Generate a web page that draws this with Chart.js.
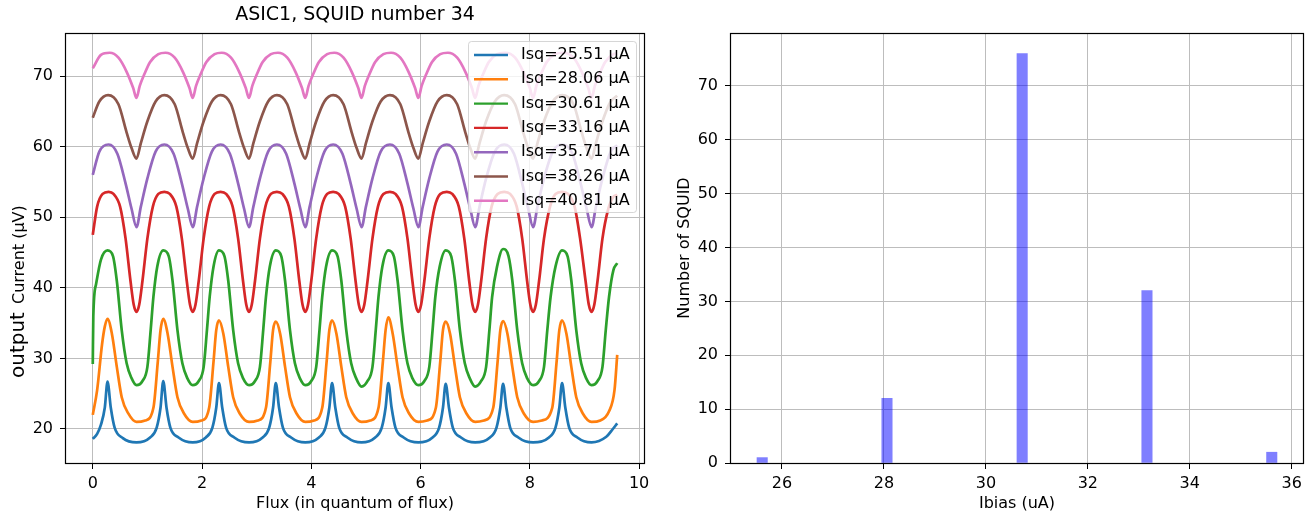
<!DOCTYPE html>
<html>
<head>
<meta charset="utf-8">
<script src="https://cdn.jsdelivr.net/npm/chart.js"></script>
<style>
  html, body { margin: 0; padding: 0; background: #fff; }
  #wrap { position: relative; width: 1307px; height: 516px; }
  canvas { position: absolute; top: 0; }
  #left { left: 0; }
  #right { left: 660px; }
</style>
</head>
<body>
<div id="wrap">
  <canvas id="left" width="660" height="516"></canvas>
  <canvas id="right" width="647" height="516"></canvas>
</div>
<script>
// flux sweep curves, [flux, output in uV]
const isq2551 = [[0.00,18.6],[0.08,19.3],[0.15,20.6],[0.22,23.0],[0.27,26.7],[0.33,23.0],[0.40,20.2],[0.55,18.7],[0.80,18.1],
  [1.05,18.8],[1.17,20.2],[1.24,23.0],[1.29,26.8],[1.35,23.0],[1.42,20.2],[1.57,18.8],[1.83,18.1],
  [2.07,18.8],[2.19,20.2],[2.26,23.0],[2.31,26.5],[2.37,23.0],[2.44,20.2],[2.59,18.8],[2.86,18.1],
  [3.11,18.8],[3.23,20.2],[3.30,23.0],[3.35,26.5],[3.41,23.0],[3.48,20.2],[3.63,18.8],[3.89,18.1],
  [4.14,18.8],[4.26,20.2],[4.33,23.0],[4.38,26.5],[4.44,23.0],[4.51,20.2],[4.66,18.8],[4.92,18.1],
  [5.17,18.8],[5.29,20.2],[5.36,23.0],[5.41,26.5],[5.47,23.0],[5.54,20.2],[5.69,18.8],[5.96,18.1],
  [6.22,18.8],[6.34,20.2],[6.41,23.0],[6.46,26.4],[6.52,23.0],[6.59,20.2],[6.74,18.8],[7.00,18.1],
  [7.27,18.8],[7.39,20.2],[7.46,23.0],[7.51,26.4],[7.57,23.0],[7.64,20.2],[7.79,18.8],[8.06,18.1],
  [8.35,18.8],[8.47,20.2],[8.54,23.0],[8.59,26.5],[8.65,23.0],[8.72,20.2],[8.87,18.8],[9.13,18.1],
  [9.40,18.9],[9.52,20.0],[9.60,20.8]];

const isq2806 = [[0.00,22.0],[0.08,25.5],[0.17,32.0],[0.22,34.5],[0.27,35.6],[0.35,33.5],[0.44,28.8],[0.53,24.5],[0.65,22.2],[0.80,21.0],[0.96,21.2],
  [1.11,23.0],[1.19,29.5],[1.24,34.0],[1.29,35.6],[1.37,33.5],[1.46,28.8],[1.55,24.5],[1.67,22.2],[1.83,21.0],[1.99,21.2],
  [2.13,23.0],[2.21,29.5],[2.26,34.0],[2.31,35.4],[2.39,33.5],[2.48,28.8],[2.57,24.5],[2.69,22.2],[2.86,21.0],[3.02,21.2],
  [3.17,23.0],[3.25,29.5],[3.30,34.0],[3.35,35.2],[3.43,33.5],[3.52,28.8],[3.61,24.5],[3.73,22.2],[3.89,21.0],[4.05,21.2],
  [4.20,23.0],[4.28,29.5],[4.33,34.0],[4.38,35.4],[4.46,33.5],[4.55,28.8],[4.64,24.5],[4.76,22.2],[4.92,21.0],[5.08,21.2],
  [5.23,23.0],[5.31,29.5],[5.36,34.0],[5.41,35.8],[5.49,33.5],[5.58,28.8],[5.67,24.5],[5.79,22.2],[5.96,21.0],[6.12,21.2],
  [6.28,23.0],[6.36,29.5],[6.41,34.0],[6.46,35.2],[6.54,33.5],[6.63,28.8],[6.72,24.5],[6.84,22.2],[7.00,21.0],[7.16,21.2],
  [7.33,23.0],[7.41,29.5],[7.46,34.0],[7.51,35.3],[7.59,33.5],[7.68,28.8],[7.77,24.5],[7.89,22.2],[8.06,21.0],[8.22,21.2],
  [8.41,23.0],[8.49,29.5],[8.54,34.0],[8.59,35.4],[8.67,33.5],[8.76,28.8],[8.85,24.5],[8.97,22.2],[9.13,21.0],[9.29,21.2],
  [9.45,22.5],[9.55,25.5],[9.60,30.5]];

const isq3061 = [[0.00,29.2],[0.01,36.0],[0.06,40.5],[0.15,44.0],[0.27,45.3],[0.37,44.5],[0.44,41.0],[0.53,34.0],[0.62,29.3],[0.71,27.2],[0.80,26.2],[0.91,26.8],[1.00,28.8],[1.06,34.0],[1.11,38.7],[1.18,43.0],
  [1.29,45.3],[1.39,44.5],[1.46,41.0],[1.55,34.0],[1.64,29.3],[1.73,27.2],[1.83,26.2],[1.94,26.8],[2.03,28.8],[2.09,34.0],[2.14,38.7],[2.21,43.0],
  [2.31,45.3],[2.41,44.5],[2.48,41.0],[2.57,34.0],[2.66,29.3],[2.75,27.2],[2.86,26.2],[2.97,26.8],[3.06,28.8],[3.12,34.0],[3.17,38.7],[3.24,43.0],
  [3.35,45.3],[3.45,44.5],[3.52,41.0],[3.61,34.0],[3.70,29.3],[3.79,27.2],[3.89,26.2],[4.00,26.8],[4.09,28.8],[4.15,34.0],[4.20,38.7],[4.27,43.0],
  [4.38,45.3],[4.48,44.5],[4.55,41.0],[4.64,34.0],[4.73,29.3],[4.82,27.2],[4.92,26.0],[5.03,26.8],[5.12,28.8],[5.18,34.0],[5.23,38.7],[5.30,43.0],
  [5.41,45.3],[5.51,44.5],[5.58,41.0],[5.67,34.0],[5.76,29.3],[5.85,27.2],[5.96,26.2],[6.07,26.8],[6.16,28.8],[6.22,34.0],[6.27,38.7],[6.35,43.0],
  [6.46,45.3],[6.56,44.5],[6.63,41.0],[6.72,34.0],[6.81,29.3],[6.90,27.2],[7.00,26.0],[7.11,26.8],[7.20,28.8],[7.26,34.0],[7.31,38.7],[7.40,43.0],
  [7.51,45.5],[7.61,44.5],[7.68,41.0],[7.77,34.0],[7.86,29.3],[7.95,27.2],[8.06,26.2],[8.17,26.8],[8.26,28.8],[8.32,34.0],[8.38,38.7],[8.47,43.0],
  [8.59,45.3],[8.69,44.5],[8.76,41.0],[8.85,34.0],[8.94,29.3],[9.03,27.2],[9.13,26.2],[9.24,26.8],[9.33,28.8],[9.39,34.0],[9.45,38.7],[9.53,42.5],[9.60,43.5]];

const isq3316 = [[0.00,47.5],[0.08,51.5],[0.18,53.3],[0.29,53.6],[0.38,53.3],[0.50,51.5],[0.60,47.0],[0.69,41.0],[0.75,37.6],[0.80,36.6],[0.85,37.6],[0.91,41.0],[1.00,47.0],[1.10,51.5],[1.20,53.3],
  [1.31,53.6],[1.41,53.3],[1.53,51.5],[1.63,47.0],[1.72,41.0],[1.78,37.6],[1.83,36.6],[1.88,37.6],[1.94,41.0],[2.03,47.0],[2.13,51.5],[2.23,53.3],
  [2.34,53.6],[2.44,53.3],[2.56,51.5],[2.66,47.0],[2.75,41.0],[2.81,37.6],[2.86,36.6],[2.91,37.6],[2.97,41.0],[3.06,47.0],[3.16,51.5],[3.26,53.3],
  [3.37,53.6],[3.47,53.3],[3.59,51.5],[3.69,47.0],[3.78,41.0],[3.84,37.6],[3.89,36.6],[3.94,37.6],[4.00,41.0],[4.09,47.0],[4.19,51.5],[4.29,53.3],
  [4.40,53.6],[4.50,53.3],[4.62,51.5],[4.72,47.0],[4.81,41.0],[4.87,37.6],[4.92,36.6],[4.97,37.6],[5.03,41.0],[5.12,47.0],[5.22,51.5],[5.32,53.3],
  [5.44,53.6],[5.54,53.3],[5.66,51.5],[5.76,47.0],[5.85,41.0],[5.91,37.6],[5.96,36.6],[6.01,37.6],[6.07,41.0],[6.16,47.0],[6.26,51.5],[6.36,53.3],
  [6.48,53.6],[6.58,53.3],[6.70,51.5],[6.80,47.0],[6.89,41.0],[6.95,37.6],[7.00,36.6],[7.05,37.6],[7.11,41.0],[7.20,47.0],[7.30,51.5],[7.41,53.3],
  [7.53,53.6],[7.64,53.3],[7.76,51.5],[7.86,47.0],[7.95,41.0],[8.01,37.6],[8.06,36.6],[8.11,37.6],[8.17,41.0],[8.26,47.0],[8.37,51.5],[8.47,53.3],
  [8.59,53.6],[8.70,53.3],[8.82,51.5],[8.92,47.0],[9.02,41.0],[9.08,37.6],[9.13,36.6],[9.18,37.6],[9.24,41.0],[9.33,47.0],[9.43,51.0],[9.52,52.8],[9.60,53.2]];

const isq3571 = [[0.00,56.0],[0.12,59.3],[0.29,60.3],[0.45,59.0],[0.60,54.8],[0.71,51.2],[0.80,48.6],[0.88,51.5],[1.00,55.5],[1.15,59.3],
  [1.31,60.3],[1.48,59.0],[1.63,54.8],[1.74,51.2],[1.83,48.6],[1.91,51.5],[2.03,55.5],[2.18,59.3],
  [2.34,60.3],[2.51,59.0],[2.66,54.8],[2.77,51.2],[2.86,48.6],[2.94,51.5],[3.06,55.5],[3.21,59.3],
  [3.37,60.3],[3.54,59.0],[3.69,54.8],[3.80,51.2],[3.89,48.6],[3.97,51.5],[4.09,55.5],[4.24,59.3],
  [4.40,60.3],[4.57,59.0],[4.72,54.8],[4.83,51.2],[4.92,48.6],[5.00,51.5],[5.12,55.5],[5.27,59.3],
  [5.44,60.3],[5.61,59.0],[5.76,54.8],[5.87,51.2],[5.96,48.6],[6.04,51.5],[6.16,55.5],[6.31,59.3],
  [6.48,60.3],[6.65,59.0],[6.80,54.8],[6.91,51.2],[7.00,48.6],[7.08,51.5],[7.20,55.5],[7.36,59.3],
  [7.53,60.3],[7.71,59.0],[7.86,54.8],[7.97,51.2],[8.06,48.6],[8.14,51.5],[8.26,55.5],[8.42,59.3],
  [8.59,60.3],[8.78,59.0],[8.93,54.8],[9.04,51.2],[9.13,48.6],[9.21,51.5],[9.33,55.5],[9.48,59.3],[9.60,60.2]];

const isq3826 = [[0.00,64.1],[0.12,66.4],[0.28,67.3],[0.47,66.0],[0.62,62.0],[0.71,59.8],[0.80,58.3],[0.88,60.5],[1.00,63.6],[1.15,66.4],
  [1.31,67.3],[1.50,66.0],[1.65,62.0],[1.74,59.8],[1.83,58.3],[1.91,60.5],[2.03,63.6],[2.18,66.4],
  [2.34,67.3],[2.53,66.0],[2.68,62.0],[2.77,59.8],[2.86,58.3],[2.94,60.5],[3.06,63.6],[3.21,66.4],
  [3.37,67.3],[3.56,66.0],[3.71,62.0],[3.80,59.8],[3.89,58.3],[3.97,60.5],[4.09,63.6],[4.24,66.4],
  [4.40,67.3],[4.59,66.0],[4.74,62.0],[4.83,59.8],[4.92,58.3],[5.00,60.5],[5.12,63.6],[5.27,66.4],
  [5.44,67.3],[5.63,66.0],[5.78,62.0],[5.87,59.8],[5.96,58.3],[6.04,60.5],[6.16,63.6],[6.31,66.4],
  [6.48,67.3],[6.67,66.0],[6.82,62.0],[6.91,59.8],[7.00,58.3],[7.08,60.5],[7.20,63.6],[7.36,66.4],
  [7.53,67.3],[7.73,66.0],[7.88,62.0],[7.97,59.8],[8.06,58.3],[8.14,60.5],[8.26,63.6],[8.42,66.4],
  [8.59,67.3],[8.80,66.0],[8.95,62.0],[9.04,59.8],[9.13,58.3],[9.21,60.5],[9.33,63.6],[9.48,66.4],[9.60,67.2]];

const isq4081 = [[0.00,71.1],[0.15,73.0],[0.31,73.3],[0.47,72.6],[0.62,70.6],[0.74,68.3],[0.80,66.9],[0.86,68.6],[0.93,70.0],[1.05,72.0],[1.20,73.1],
  [1.33,73.3],[1.50,72.6],[1.65,70.6],[1.77,68.3],[1.83,66.9],[1.89,68.6],[1.96,70.0],[2.08,72.0],[2.23,73.1],
  [2.36,73.3],[2.53,72.6],[2.68,70.6],[2.80,68.3],[2.86,66.9],[2.92,68.6],[2.99,70.0],[3.11,72.0],[3.26,73.1],
  [3.39,73.3],[3.56,72.6],[3.71,70.6],[3.83,68.3],[3.89,66.9],[3.95,68.6],[4.02,70.0],[4.14,72.0],[4.29,73.1],
  [4.42,73.3],[4.59,72.6],[4.74,70.6],[4.86,68.3],[4.92,66.9],[4.98,68.6],[5.05,70.0],[5.17,72.0],[5.32,73.1],
  [5.46,73.3],[5.63,72.6],[5.78,70.6],[5.90,68.3],[5.96,66.9],[6.02,68.6],[6.09,70.0],[6.21,72.0],[6.36,73.1],
  [6.50,73.3],[6.67,72.6],[6.82,70.6],[6.94,68.3],[7.00,66.9],[7.06,68.6],[7.13,70.0],[7.25,72.0],[7.40,73.1],
  [7.55,73.3],[7.73,72.6],[7.88,70.6],[8.00,68.3],[8.06,66.9],[8.12,68.6],[8.19,70.0],[8.31,72.0],[8.46,73.1],
  [8.61,73.3],[8.80,72.6],[8.95,70.6],[9.07,68.3],[9.13,66.9],[9.19,68.6],[9.26,70.0],[9.38,72.0],[9.53,73.1],[9.60,73.2]];

const isqLabels = ['Isq=25.51 µA', 'Isq=28.06 µA', 'Isq=30.61 µA', 'Isq=33.16 µA', 'Isq=35.71 µA', 'Isq=38.26 µA', 'Isq=40.81 µA'];
const isqColors = ['#1f77b4', '#ff7f0e', '#2ca02c', '#d62728', '#9467bd', '#8c564b', '#e377c2'];
const isqSeries = [isq2551, isq2806, isq3061, isq3316, isq3571, isq3826, isq4081];

// histogram of bias currents, 50 bins between min and max
const ibiasLow = 25.51;
const ibiasHigh = 35.71;
const ibiasCounts = [1,0,0,0,0,0,0,0,0,0,
  0,0,12,0,0,0,0,0,0,0,
  0,0,0,0,0,76,0,0,0,0,
  0,0,0,0,0,0,0,32,0,0,
  0,0,0,0,0,0,0,0,0,2];

const fluxTicks = [0, 2, 4, 6, 8, 10];
const ibiasTicks = [26, 28, 30, 32, 34, 36];

Chart.defaults.font.family = '"DejaVu Sans", sans-serif';
Chart.defaults.font.size = 16;
Chart.defaults.color = '#000';

const gridColor = '#bdbdbd';

// box round the plot area (matplotlib spines)
const framePlugin = {
  id: 'frame',
  afterDatasetsDraw(chart) {
    const { ctx, chartArea: a } = chart;
    ctx.save();
    ctx.strokeStyle = '#000';
    ctx.lineWidth = 1.2;
    ctx.strokeRect(Math.round(a.left) - 0.5, Math.round(a.top) + 0.5,
      Math.round(a.right - a.left) + 1, Math.round(a.bottom - a.top));
    ctx.restore();
  }
};

const titlePlugin = {
  id: 'axTitle',
  afterDraw(chart) {
    const { ctx, chartArea: a } = chart;
    ctx.save();
    ctx.font = '19px "DejaVu Sans"';
    ctx.fillStyle = '#000';
    ctx.textAlign = 'center';
    ctx.textBaseline = 'middle';
    ctx.fillText('ASIC1, SQUID number 34', (a.left + a.right) / 2, 15.5);
    ctx.restore();
  }
};

// y label with the big "output" word in front
const yLabelPlugin = {
  id: 'yLabel',
  afterDraw(chart) {
    const ctx = chart.ctx;
    ctx.save();
    ctx.translate(23.5, 378);
    ctx.rotate(-Math.PI / 2);
    ctx.fillStyle = '#000';
    ctx.textBaseline = 'alphabetic';
    ctx.textAlign = 'left';
    ctx.font = '20px "DejaVu Sans"';
    ctx.fillText('output', 0, 0);
    const w = ctx.measureText('output').width;
    ctx.font = '16px "DejaVu Sans"';
    ctx.fillText('Current (µV)', w + 8, 0);
    ctx.restore();
  }
};

const legendPlugin = {
  id: 'boxLegend',
  afterDraw(chart) {
    const { ctx, chartArea: a } = chart;
    const w = 168, h = 171;
    const x0 = Math.round(a.right) - 8 - w, y0 = Math.round(a.top) + 8;
    ctx.save();
    ctx.beginPath();
    ctx.roundRect(x0 + 0.5, y0 + 0.5, w, h, 3);
    ctx.fillStyle = 'rgba(255,255,255,0.8)';
    ctx.fill();
    ctx.strokeStyle = 'rgba(204,204,204,0.8)';
    ctx.lineWidth = 1;
    ctx.stroke();
    ctx.font = '16px "DejaVu Sans"';
    ctx.textBaseline = 'middle';
    ctx.textAlign = 'left';
    chart.data.datasets.forEach((ds, i) => {
      const y = y0 + 14 + i * 24.3;
      ctx.strokeStyle = ds.borderColor;
      ctx.lineWidth = 2.4;
      ctx.beginPath();
      ctx.moveTo(x0 + 6, y);
      ctx.lineTo(x0 + 40, y);
      ctx.stroke();
      ctx.fillStyle = '#000';
      ctx.fillText(ds.label, x0 + 53, y);
    });
    ctx.restore();
  }
};

const leftChart = new Chart(document.getElementById('left'), {
  type: 'line',
  data: {
    datasets: isqSeries.map((s, i) => ({
      label: isqLabels[i],
      data: s.map(p => ({ x: p[0], y: p[1] })),
      borderColor: isqColors[i],
      backgroundColor: isqColors[i],
      borderWidth: 2.7,
      pointRadius: 0,
      cubicInterpolationMode: 'monotone',
      order: isqSeries.length - i
    }))
  },
  options: {
    responsive: false,
    animation: false,
    layout: { padding: { top: 33, right: 16, left: 0, bottom: 0 } },
    plugins: { legend: { display: false }, tooltip: { enabled: false } },
    scales: {
      x: {
        type: 'linear',
        min: -0.49,
        max: 10.09,
        afterFit(s) { s.height = 53; },
        afterBuildTicks(s) { s.ticks = fluxTicks.map(v => ({ value: v })); },
        ticks: { padding: 5, includeBounds: false },
        grid: { color: gridColor, tickColor: '#000', tickLength: 6, lineWidth: 1 },
        border: { display: false },
        title: { display: true, text: 'Flux (in quantum of flux)', font: { size: 16 }, padding: { top: 0, bottom: 2.4 } }
      },
      y: {
        min: 15.18,
        max: 76.1,
        afterFit(s) { s.width = 66; },
        ticks: { stepSize: 10, padding: 7, includeBounds: false },
        grid: { color: gridColor, tickColor: '#000', tickLength: 6, lineWidth: 1 },
        border: { display: false }
      }
    }
  },
  plugins: [framePlugin, legendPlugin, titlePlugin, yLabelPlugin]
});

const binWidth = (ibiasHigh - ibiasLow) / ibiasCounts.length;
const rightChart = new Chart(document.getElementById('right'), {
  type: 'bar',
  data: {
    datasets: [{
      label: 'Ibias',
      // empty bins kept as null so they hold the bin spacing but draw nothing
      data: ibiasCounts.map((c, i) => ({ x: ibiasLow + (i + 0.5) * binWidth, y: c === 0 ? null : c })),
      backgroundColor: 'rgba(0,0,255,0.5)',
      borderWidth: 0,
      barPercentage: 1,
      categoryPercentage: 1
    }]
  },
  options: {
    responsive: false,
    animation: false,
    layout: { padding: { top: 33, right: 4, left: 0, bottom: 0 } },
    plugins: { legend: { display: false }, tooltip: { enabled: false } },
    scales: {
      x: {
        type: 'linear',
        min: 25.0,
        max: 36.22,
        offset: false,
        afterFit(s) { s.height = 53; },
        afterBuildTicks(s) { s.ticks = ibiasTicks.map(v => ({ value: v })); },
        ticks: { padding: 5, includeBounds: false },
        grid: { offset: false, color: gridColor, tickColor: '#000', tickLength: 6, lineWidth: 1 },
        border: { display: false },
        title: { display: true, text: 'Ibias (uA)', font: { size: 16 }, padding: { top: 0, bottom: 2.4 } }
      },
      y: {
        min: 0,
        max: 79.8,
        afterFit(s) { s.width = 71; },
        ticks: { stepSize: 10, padding: 7, includeBounds: false },
        grid: { color: gridColor, tickColor: '#000', tickLength: 6, lineWidth: 1 },
        border: { display: false },
        title: { display: true, text: 'Number of SQUID', font: { size: 16 }, padding: { top: 15, bottom: 0 } }
      }
    }
  },
  plugins: [framePlugin]
});
</script>
</body>
</html>
